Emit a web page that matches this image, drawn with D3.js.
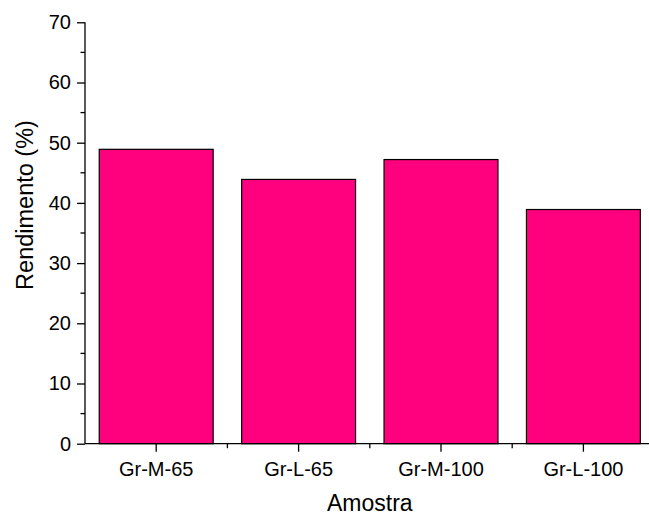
<!DOCTYPE html>
<html>
<head>
<meta charset="utf-8">
<script src="https://cdn.jsdelivr.net/npm/d3@7"></script>
<style>
  html, body { margin: 0; padding: 0; background: #fff; }
  text { font-family: "Liberation Sans", Arial, sans-serif; fill: #000; }
</style>
</head>
<body>
<svg id="chart" width="649" height="516"></svg>
<script>
const categories = ["Gr-M-65", "Gr-L-65", "Gr-M-100", "Gr-L-100"];
const values = [48.9, 43.9, 47.2, 38.9];
const yTicks = [0, 10, 20, 30, 40, 50, 60, 70];
const xTitle = "Amostra";
const yTitle = "Rendimento (%)";

const svg = d3.select("#chart");
const plotLeft = 85, plotBottom = 443.7, plotTop = 22.3;

const x = d3.scaleLinear().domain([0.5, 4.5]).range([plotLeft, plotLeft + 4 * 142.4]);
const y = d3.scaleLinear().domain([0, 70]).range([plotBottom, plotTop]);
const barW = 0.8;

// bars
svg.append("g").selectAll("rect").data(values).join("rect")
  .attr("x", (d, i) => x(i + 1 - barW / 2))
  .attr("width", (d, i) => x(i + 1 + barW / 2) - x(i + 1 - barW / 2))
  .attr("y", d => y(d))
  .attr("height", d => y(0) - y(d))
  .attr("fill", "#ff007f")
  .attr("stroke", "#000")
  .attr("stroke-width", 1.2);

// y axis
const yAxis = svg.append("g").attr("transform", `translate(${plotLeft},0)`)
  .call(d3.axisLeft(y).tickValues(yTicks).tickSize(8).tickPadding(6).tickFormat(d3.format("d")));
yAxis.selectAll(".tick text").style("font-size", "20px");
yAxis.selectAll("line").attr("stroke-width", 1.3);
yAxis.select(".domain").attr("stroke-width", 1.3).attr("d", `M0,${plotBottom}V${plotTop}`);
// y minor ticks
svg.append("g").attr("transform", `translate(${plotLeft},0)`)
  .selectAll("line").data(d3.range(5, 70, 10)).join("line")
  .attr("x1", -4.5).attr("x2", 0).attr("y1", d => y(d)).attr("y2", d => y(d))
  .attr("stroke", "#000").attr("stroke-width", 1.3);

// x axis
const xAxisG = svg.append("g").attr("transform", `translate(0,${plotBottom})`);
xAxisG.append("line").attr("x1", plotLeft).attr("x2", 649).attr("y1", 0).attr("y2", 0)
  .attr("stroke", "#000").attr("stroke-width", 1.3);
xAxisG.selectAll("line.major").data(categories).join("line").attr("class", "major")
  .attr("x1", (d, i) => x(i + 1)).attr("x2", (d, i) => x(i + 1))
  .attr("y1", 0).attr("y2", 8).attr("stroke", "#000").attr("stroke-width", 1.3);
xAxisG.selectAll("line.minor").data(d3.range(1.5, 4.5, 1)).join("line").attr("class", "minor")
  .attr("x1", d => x(d)).attr("x2", d => x(d))
  .attr("y1", 0).attr("y2", 4.5).attr("stroke", "#000").attr("stroke-width", 1.3);
xAxisG.selectAll("text").data(categories).join("text")
  .attr("x", (d, i) => x(i + 1)).attr("y", 32)
  .attr("text-anchor", "middle").style("font-size", "20px").text(d => d);

// titles
svg.append("text").attr("x", x(2.5)).attr("y", 510.5).attr("text-anchor", "middle")
  .style("font-size", "23px").text(xTitle);
svg.append("text").attr("transform", `translate(33,205) rotate(-90)`)
  .attr("text-anchor", "middle").style("font-size", "23.5px").text(yTitle);
</script>
</body>
</html>
